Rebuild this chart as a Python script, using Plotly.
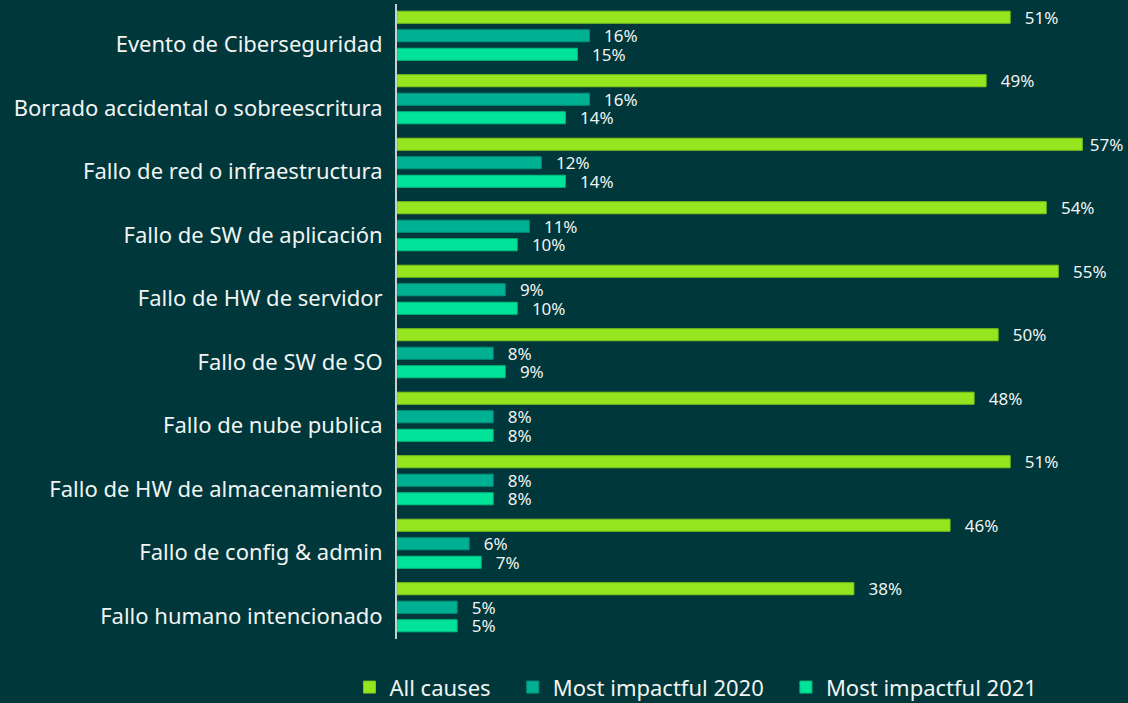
import plotly.graph_objects as go

categories = [
    "Evento de Ciberseguridad",
    "Borrado accidental o sobreescritura",
    "Fallo de red o infraestructura",
    "Fallo de SW de aplicación",
    "Fallo de HW de servidor",
    "Fallo de SW de SO",
    "Fallo de nube publica",
    "Fallo de HW de almacenamiento",
    "Fallo de config & admin",
    "Fallo humano intencionado",
]
all_causes = [51, 49, 57, 54, 55, 50, 48, 51, 46, 38]
impact_2020 = [16, 16, 12, 11, 9, 8, 8, 8, 6, 5]
impact_2021 = [15, 14, 14, 10, 10, 9, 8, 8, 7, 5]
series_names = ["All causes", "Most impactful 2020", "Most impactful 2021"]

NB = "\u00a0"
legend_pad = [NB * 3, NB * 3, ""]
colors = [("#95e61f", "#7fc41a"), ("#00b092", "#00957c"), ("#00e398", "#00c081")]
values = [all_causes, impact_2020, impact_2021]

BG = "#00373a"
TXT = "#f0f4f2"
FONT = "Noto Sans"
vmax = max(all_causes)


def label(v):
    pad = NB if v == vmax else NB + NB + "\u2009"
    return pad + "%d%%" % v


fig = go.Figure()
for name, pad, vals, (col, lcol) in zip(series_names, legend_pad, values, colors):
    fig.add_trace(go.Bar(
        name=name + pad, y=categories, x=vals, orientation="h",
        marker=dict(color=col, line=dict(color=lcol, width=1)),
        text=[label(v) for v in vals],
        textposition="outside", constraintext="none",
        textfont=dict(color=TXT, size=17, family=FONT),
        cliponaxis=False,
    ))

fig.update_layout(
    width=1128, height=703,
    paper_bgcolor=BG, plot_bgcolor=BG,
    margin=dict(l=397, r=0, t=4, b=64, autoexpand=False),
    barmode="group", bargap=0.125, bargroupgap=0.35,
    font=dict(family=FONT, color=TXT),
    showlegend=True,
    legend=dict(orientation="h", x=0.409, xanchor="center", y=-0.043, yanchor="top",
                font=dict(size=22, color=TXT, family=FONT), bgcolor="rgba(0,0,0,0)",
                traceorder="normal"),
)
fig.update_xaxes(range=[0, 60.8], showgrid=False, zeroline=False, showticklabels=False,
                 showline=False)
fig.update_yaxes(autorange="reversed", showgrid=False, zeroline=False,
                 showline=True, linecolor="#c8d0d0", linewidth=2,
                 ticks="", ticklabelstandoff=8, ticklabelshift=-9,
                 tickfont=dict(size=22, color=TXT, family=FONT))

fig.write_html("out.html")
